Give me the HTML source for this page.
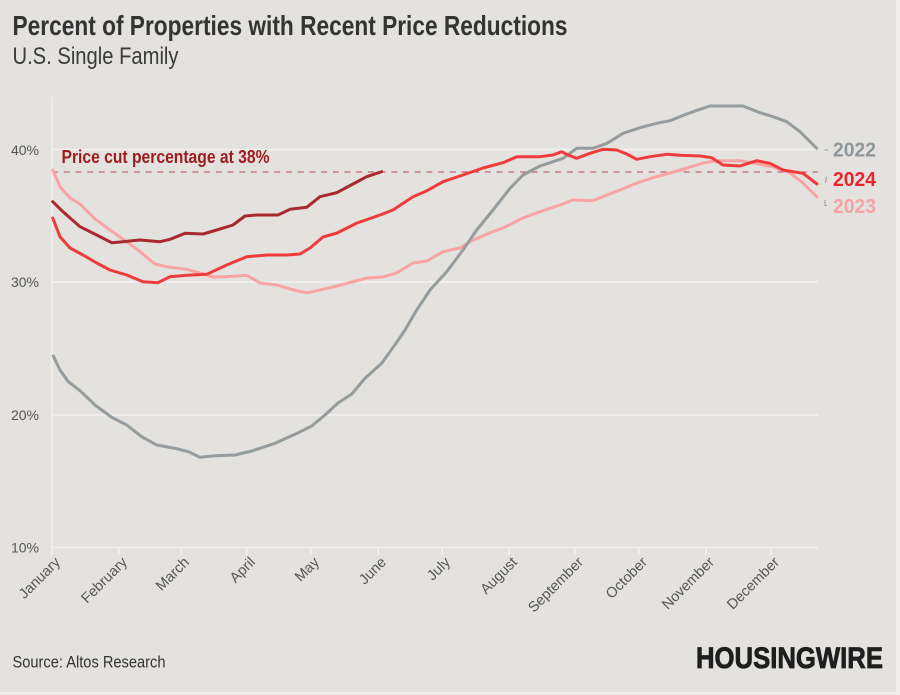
<!DOCTYPE html>
<html><head><meta charset="utf-8"><style>
html,body{margin:0;padding:0;background:#e4e2df;}
svg{display:block;}
</style></head><body>
<svg width="900" height="695" viewBox="0 0 900 695" xmlns="http://www.w3.org/2000/svg" font-family="'Liberation Sans', sans-serif">
<rect x="0" y="0" width="900" height="695" fill="#e4e2df"/>
<rect x="896" y="0" width="4" height="695" fill="#efeeec"/>
<rect x="0" y="692" width="900" height="3" fill="#efeeec"/>

<text x="12.5" y="35" font-size="28" font-weight="bold" fill="#333" textLength="555" lengthAdjust="spacingAndGlyphs">Percent of Properties with Recent Price Reductions</text>
<text x="12.5" y="64" font-size="24" fill="#3a3a3a" textLength="166" lengthAdjust="spacingAndGlyphs">U.S. Single Family</text>

<g stroke="#f3f2f0" stroke-width="1.5" fill="none">
<line x1="52" y1="97" x2="52" y2="548"/>
<line x1="52" y1="149.5" x2="818" y2="149.5"/>
<line x1="52" y1="282" x2="818" y2="282"/>
<line x1="52" y1="415" x2="818" y2="415"/>
<line x1="52" y1="547.5" x2="818" y2="547.5"/>
<line x1="52" y1="547" x2="52" y2="555"/>
<line x1="119" y1="547" x2="119" y2="555"/>
<line x1="181" y1="547" x2="181" y2="555"/>
<line x1="247" y1="547" x2="247" y2="555"/>
<line x1="311" y1="547" x2="311" y2="555"/>
<line x1="378" y1="547" x2="378" y2="555"/>
<line x1="442" y1="547" x2="442" y2="555"/>
<line x1="509" y1="547" x2="509" y2="555"/>
<line x1="575" y1="547" x2="575" y2="555"/>
<line x1="639" y1="547" x2="639" y2="555"/>
<line x1="706" y1="547" x2="706" y2="555"/>
<line x1="771" y1="547" x2="771" y2="555"/>
</g>

<g font-size="14" fill="#555" text-anchor="end">
<text x="39" y="155">40%</text>
<text x="39" y="287">30%</text>
<text x="39" y="420">20%</text>
<text x="39" y="552.5">10%</text>
</g>

<g font-size="14.5" fill="#555" text-anchor="end">
<text transform="translate(61,563) rotate(-45)">January</text>
<text transform="translate(128,563) rotate(-45)">February</text>
<text transform="translate(190,563) rotate(-45)">March</text>
<text transform="translate(256,563) rotate(-45)">April</text>
<text transform="translate(320,563) rotate(-45)">May</text>
<text transform="translate(387,563) rotate(-45)">June</text>
<text transform="translate(451,563) rotate(-45)">July</text>
<text transform="translate(518,563) rotate(-45)">August</text>
<text transform="translate(584,563) rotate(-45)">September</text>
<text transform="translate(648,563) rotate(-45)">October</text>
<text transform="translate(715,563) rotate(-45)">November</text>
<text transform="translate(780,563) rotate(-45)">December</text>
</g>

<line x1="52" y1="172" x2="818" y2="172" stroke="#b5465a" stroke-width="1" stroke-dasharray="6,5.7"/>
<text x="61.5" y="163" font-size="18" font-weight="bold" fill="#9e1b1f" textLength="208" lengthAdjust="spacingAndGlyphs">Price cut percentage at 38%</text>

<g fill="none" stroke-width="3" stroke-linejoin="round" stroke-linecap="round">
<polyline stroke="#f9a3a3" points="52.7,170 60,186.7 70,198 80,204 95,219 110,230 126.7,241.7 140,251.7 155,264 166.7,266.7 186.7,269.3 200,273 213,277 226.7,276.7 246.7,275.3 260,283 276.7,285 290,289 300,291.5 308,292.7 333,287 367,278 383,277 397,272.7 413,263 427,261 443,251.7 460,248 473,240 490,232.7 503,228 523,218 540,211.7 560,205 573,200 593,200.7 607,195 620,190 637,183 653,177.7 670,173 687,168 703,163 717,160.7 740,160.7 753,163 773,166.7 790,173 803,183 817,197"/>
<polyline stroke="#959c9e" points="53.3,356 60,370 68.3,381.7 80,390.7 95,405 111.7,417.3 126.7,425 141.7,436.7 156.7,445 175,448.3 188.3,451.7 200,457.3 215,455.7 235,455 251.7,451 275,443.3 298.3,432.7 311.7,426 325,415 338.3,402.7 351.7,394 365,378.3 381.7,363.3 398.3,340 405,330 416.7,310 430,290 446.7,271.7 463,250 476.7,230 493,210 510,188.3 523,175 540,166 553,161.7 563,158.3 576.7,148.3 593,148.3 607,143.3 623,133.3 640,127.7 656.7,123.3 670,120.7 686.7,114 700,109.3 710,106 743,106 760,112.7 773,116.7 786.7,121.7 800,131.7 816.7,148.3"/>
<polyline stroke="#ef3b3b" points="52.7,218 60,236.7 70,248 83,255 96.7,263 110,270 126.7,275 143,281.7 158,282.7 170,276.7 186.7,275.3 206.7,274.3 226.7,265 246.7,256.7 266.7,255 286.7,255 300,254 310,248 323,237 337,233 357,223 380,215 393,210 413,196.7 427,190.7 443,181.7 463,175 483,168 503,162.7 517,156.7 530,156.7 540,156.7 553,155 561.7,151.7 568,155 576.7,158.3 590,153.3 603,149.3 616.7,150 626.7,154 636.7,159.3 650,156.7 666.7,154.3 680,155.3 700,156 711.7,157.7 723,165 740,166 756.7,160.7 770,163.3 783,170 803,173.3 817,184"/>
<polyline stroke="#a82a2e" points="52.7,201.7 63,211.7 80,226.7 96.7,235 111.7,242.7 123,241.7 140,240 160,241.7 170,239.3 185,233.3 203,234 216.7,230 233,225 245,216 256.7,215 278,215 290,209.3 306.7,207.3 320,196.7 336.7,192.7 353,184 366.7,176.7 381.7,171.7"/>
</g>

<g stroke="#999" stroke-width="1" fill="none">
<line x1="824.5" y1="150" x2="828" y2="150"/>
<path d="M826.5,176.5 L825.5,183"/>
<path d="M825,200 L825,205.5 L827,205.5"/>
</g>
<g font-size="20" font-weight="bold">
<text x="833" y="156.5" fill="#8f979a" textLength="43" lengthAdjust="spacingAndGlyphs">2022</text>
<text x="833" y="186" fill="#e8252b" textLength="43" lengthAdjust="spacingAndGlyphs">2024</text>
<text x="833" y="213" fill="#f6a3a3" textLength="43" lengthAdjust="spacingAndGlyphs">2023</text>
</g>

<text x="12.5" y="667.5" font-size="17" fill="#333" textLength="153" lengthAdjust="spacingAndGlyphs">Source: Altos Research</text>
<text x="696" y="668" font-size="30" font-weight="900" fill="#1e1e1e" textLength="187" lengthAdjust="spacingAndGlyphs" stroke="#1e1e1e" stroke-width="0.8">HOUSINGWIRE</text>
</svg>
</body></html>
